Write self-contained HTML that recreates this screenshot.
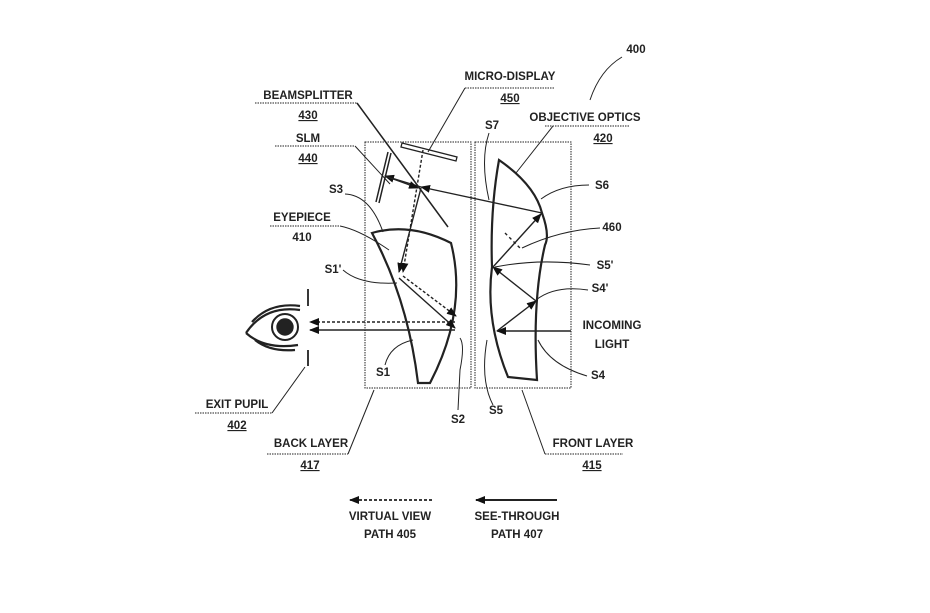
<!DOCTYPE html>
<html><head><style>
body{margin:0;background:#fff}
svg{display:block}
text{font-family:"Liberation Sans",sans-serif;font-size:11.5px;font-weight:bold;fill:#222;text-anchor:middle}
.u{text-decoration:underline}
</style></head><body>
<svg width="930" height="613" viewBox="0 0 930 613">
<defs>
<marker id="a" markerWidth="10" markerHeight="8" refX="9" refY="4" orient="auto" markerUnits="userSpaceOnUse"><path d="M0,0 L10,4 L0,8 Z" fill="#111"/></marker>
</defs>
<g fill="none" stroke="#222" stroke-width="1.4">
<rect x="365" y="142" width="106" height="246" stroke-dasharray="1.5 1" stroke-width="1"/>
<rect x="475" y="142" width="96" height="246" stroke-dasharray="1.5 1" stroke-width="1"/>
<path d="M372,233 Q410,222 451,243 Q468,310 430,383 L418,383 Q408,300 372,233 Z" stroke-width="2.2"/>
<path d="M499,160 Q535,185 542,213 Q550,235 545,245 Q532,300 537,380 L508,377 Q485,320 492,267 Q490,210 499,160 Z" stroke-width="2.2"/>
<path d="M357,103 L448,227" stroke-width="1.5"/>
<path d="M388,152 L376,202 M391,153 L379,203" stroke-width="1.5"/>
<path d="M402,143 L457,157 L456,161 L401,147 Z" stroke-width="1.3"/>
<path d="M423,150 L403,272" stroke-dasharray="3 2" marker-end="url(#a)"/>
<path d="M542,213 L421,187" marker-end="url(#a)"/>
<path d="M421,187 L385,176" marker-end="url(#a)"/>
<path d="M385,176 L418,188" marker-end="url(#a)"/>
<path d="M421,188 L399,272" marker-end="url(#a)"/>
<path d="M403,276 L456,316" stroke-dasharray="3 2" marker-end="url(#a)"/>
<path d="M399,278 L455,328" marker-end="url(#a)"/>
<path d="M455,322 L310,322" stroke-dasharray="3 2" marker-end="url(#a)"/>
<path d="M455,330 L310,330" marker-end="url(#a)"/>
<path d="M571,331 L497,331" marker-end="url(#a)"/>
<path d="M497,331 L536,301" marker-end="url(#a)"/>
<path d="M536,301 L493,267" marker-end="url(#a)"/>
<path d="M493,267 L541,214" marker-end="url(#a)"/>
<path d="M505,233 L522,250" stroke-dasharray="3 3"/>
<path d="M308,289 L308,306 M308,350 L308,366" stroke-width="1.8"/>
<path d="M246,333 Q265,305 300,310 M246,333 Q265,350 298,345 M252,322 Q270,302 300,306 M255,340 Q270,352 295,350" stroke-width="2.2"/>
<circle cx="285" cy="327" r="13" stroke-width="2"/>
<circle cx="285" cy="327" r="8" fill="#222"/>
<g stroke-width="1">
<path d="M590,100 Q600,70 622,57"/>
<path d="M465,88 L555,88" stroke-dasharray="1.5 1"/><path d="M465,88 L428,152"/>
<path d="M255,103 L357,103" stroke-dasharray="1.5 1"/>
<path d="M275,146 L355,146" stroke-dasharray="1.5 1"/><path d="M355,146 L390,184"/>
<path d="M345,194 Q370,195 383,232"/>
<path d="M270,226 L340,226" stroke-dasharray="1.5 1"/><path d="M340,226 Q360,230 389,250"/>
<path d="M343,270 Q360,285 397,283"/>
<path d="M489,133 Q480,160 489,200"/>
<path d="M545,126 L630,126" stroke-dasharray="1.5 1"/><path d="M553,126 L516,173"/>
<path d="M589,185 Q560,185 541,199"/>
<path d="M600,228 Q560,230 522,248"/>
<path d="M590,265 Q540,258 495,267"/>
<path d="M588,290 Q555,285 536,300"/>
<path d="M587,376 Q550,365 538,340"/>
<path d="M385,365 Q390,345 413,340"/>
<path d="M458,410 L460,370 Q465,345 460,338"/>
<path d="M493,405 Q480,380 487,340"/>
<path d="M195,413 L272,413" stroke-dasharray="1.5 1"/><path d="M272,413 L305,367"/>
<path d="M267,454 L348,454" stroke-dasharray="1.5 1"/><path d="M348,454 L374,390"/>
<path d="M545,454 L623,454" stroke-dasharray="1.5 1"/><path d="M545,454 L522,390"/>
</g>
<path d="M432,500 L350,500" stroke-dasharray="3 2" stroke-width="1.8" marker-end="url(#a)"/>
<path d="M557,500 L476,500" stroke-width="2" marker-end="url(#a)"/>
</g>
<text x="636" y="53">400</text>
<text x="510" y="80">MICRO-DISPLAY</text><text x="510" y="102" class="u">450</text>
<text x="308" y="99">BEAMSPLITTER</text><text x="308" y="119" class="u">430</text>
<text x="308" y="142">SLM</text><text x="308" y="162" class="u">440</text>
<text x="336" y="193">S3</text>
<text x="302" y="221">EYEPIECE</text><text x="302" y="241">410</text>
<text x="333" y="273">S1'</text>
<text x="492" y="129">S7</text>
<text x="585" y="121">OBJECTIVE OPTICS</text><text x="603" y="142" class="u">420</text>
<text x="602" y="189">S6</text>
<text x="612" y="231">460</text>
<text x="605" y="269">S5'</text>
<text x="600" y="292">S4'</text>
<text x="612" y="329">INCOMING</text><text x="612" y="348">LIGHT</text>
<text x="598" y="379">S4</text>
<text x="383" y="376">S1</text>
<text x="458" y="423">S2</text>
<text x="496" y="414">S5</text>
<text x="237" y="408">EXIT PUPIL</text><text x="237" y="429" class="u">402</text>
<text x="311" y="447">BACK LAYER</text><text x="310" y="469" class="u">417</text>
<text x="593" y="447">FRONT LAYER</text><text x="592" y="469" class="u">415</text>
<text x="390" y="520">VIRTUAL VIEW</text><text x="390" y="538">PATH 405</text>
<text x="517" y="520">SEE-THROUGH</text><text x="517" y="538">PATH 407</text>
</svg>
</body></html>
